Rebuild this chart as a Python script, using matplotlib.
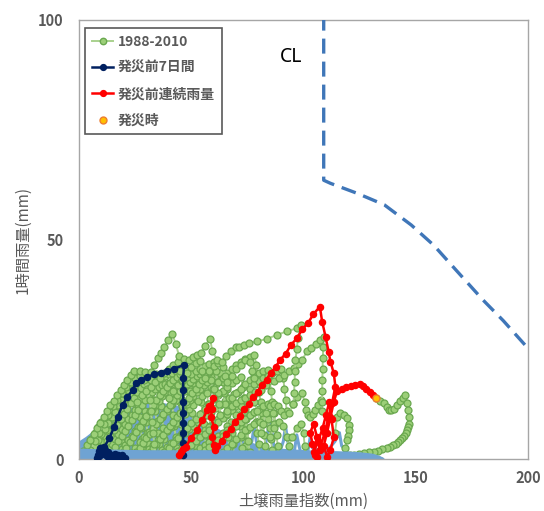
import matplotlib
matplotlib.use("Agg")
import matplotlib.pyplot as plt
from matplotlib.lines import Line2D

plt.rcParams['font.family'] = ['Noto Sans CJK JP', 'DejaVu Sans']

# ---------------- data ----------------
x_ticks = [0, 50, 100, 150, 200]
y_ticks = [0, 50, 100]
x_label = "土壌雨量指数(mm)"
y_label = "1時間雨量(mm)"
legend_labels = ["1988-2010", "発災前7日間", "発災前連続雨量", "発災時"]

# critical line (CL)
cl_x = [109, 109, 112, 124, 136, 148, 158, 168, 180, 189, 199.5]
cl_y = [101, 63.5, 62.8, 60.5, 57.9, 53.3, 48.7, 43.0, 36.2, 31.5, 25.5]

# dense low-level base (1988-2010, near zero)
base_x = [0, 0, 3, 8, 15, 25, 35, 45, 55, 65, 75, 85, 95, 105, 115, 125, 131, 135, 136, 0]
base_y = [0, 4.0, 5.0, 7.0, 9.5, 12.0, 13.0, 12.0, 9.0, 6.0, 4.0, 2.5, 2.2, 1.9, 1.7, 1.3, 1.0, 0.4, 0, 0]
band_x = [0, 0, 10, 30, 60, 90, 110, 120, 126, 131, 134, 136, 136]
band_y = [0, 2.4, 2.2, 2.0, 2.0, 1.9, 1.8, 1.7, 1.5, 1.2, 0.7, 0.2, 0]
base_line = [(75, 1), (77, 4), (78, 7.5), (79, 4), (80, 2), (83, 3), (84, 6), (85, 8.5), (86, 6), (87, 2),
             (89, 1), (91, 4), (92, 7.5), (93, 4), (94, 1.5), (96, 2), (97, 5.5), (98, 3), (99, 1),
             (102, 2), (103, 5), (104, 2.5), (110, 1.5), (114, 4), (116, 6), (117, 3), (120, 1.2)]

# 1988-2010 paths (green)
g_envelope = [(0.5, 0.5), (2, 1.8), (3.5, 3.1), (5, 4.4), (6.5, 5.7), (8, 7), (9.5, 8.3), (11, 9.6),
              (12.5, 10.9), (14, 12.2), (15.5, 13.3), (17, 14.5), (18.5, 15.7), (20, 16.8), (21.5, 18),
              (23, 19.2), (24.6, 20.1), (27, 20.0), (29.5, 19.9), (32, 19.9), (33.5, 21.5), (35, 23),
              (36.4, 24.1), (38, 25.5), (39.8, 27), (41.6, 28.5), (43, 26.3), (44.6, 23.5), (46.8, 22.8),
              (49, 22.6), (51, 23.3), (52.7, 23.8), (54.2, 24.1), (56, 25.7), (58.4, 27.4), (59.4, 24.5),
              (61.6, 22.6), (63.5, 22.2), (65.5, 23.5), (67.6, 24.5), (69.8, 25.5), (71.3, 25.4),
              (73.5, 26), (75.7, 26.4), (79.4, 26.8), (83.9, 27.4), (88.3, 28.3), (92.7, 29.1),
              (97.2, 29.8), (99, 30.5), (97.5, 27.5), (97, 25), (96.4, 22.5), (96.2, 20), (96, 17.5),
              (95.8, 15), (95.5, 12.5)]
g_second = [(66, 11), (68, 12), (70, 12.8), (72, 13.5), (74, 14), (76, 14.5), (78.5, 15.2), (80.9, 15.8),
            (83.5, 16.8), (86.8, 17.7), (89, 18.5), (91.3, 19.2), (93.5, 20), (95.7, 20.7), (97.5, 21.7),
            (99.4, 22.6), (101.6, 24.5), (103.5, 25.2), (105.5, 26.2), (107.3, 27.1), (109, 27.9),
            (108.8, 25.5), (108.6, 23), (108.5, 20.5), (108.4, 18), (108.3, 15.5), (108.3, 13),
            (108.2, 11)]
g_e1 = [(1, 0.5), (2.5, 1.8), (4, 3.2), (5.5, 4.6), (7, 6), (8.5, 7.2), (10, 8.5), (11.5, 9.6), (13, 10.6),
        (14.5, 11.3), (16, 11.8), (17, 10), (17.5, 8), (18, 6), (18.5, 4), (19, 2), (19.5, 0.5)]
g_e2 = [(4, 0.5), (5.5, 1.8), (7, 3), (8.5, 4.3), (10, 5.6), (11.5, 6.9), (13, 8.2), (14.5, 9.5), (16, 10.8),
        (17.5, 12.2), (19, 13.5), (20.5, 14.8), (22, 15.8), (23.5, 16.5), (25, 16.8), (26, 14.5),
        (26.5, 12), (27, 9.5), (27.5, 7), (28, 4.5), (28.5, 2), (29, 0.5)]
g_e3 = [(8, 0.5), (9.5, 1.5), (11, 2.7), (12.5, 4), (14, 5.2), (15.5, 6.5), (17, 7.8), (18.5, 9), (20, 10.3),
        (21.5, 11.5), (23, 12.8), (24.5, 14), (26, 15.2), (27.5, 16.2), (29, 17), (30.5, 17.6), (32, 18),
        (33, 16), (33.5, 13.5), (34, 11), (34.5, 8.5), (35, 6), (35.5, 3.5), (36, 1)]
g_e4 = [(13, 0.5), (14.5, 1.6), (16, 2.8), (17.5, 4), (19, 5.2), (20.5, 6.4), (22, 7.6), (23.5, 8.8),
        (25, 10), (26.5, 11.2), (28, 12.4), (29.5, 13.5), (31, 14.5), (32.5, 15.3), (34, 16), (35.5, 16.5),
        (37, 16.8), (38.5, 17), (40, 17.2), (41, 15), (41.5, 12.5), (42, 10), (42.5, 7.5), (43, 5),
        (43.5, 2.5), (44, 0.5)]
g_e5 = [(18, 0.5), (19.5, 1.5), (21, 2.6), (22.5, 3.8), (24, 5), (25.5, 6.2), (27, 7.4), (28.5, 8.6),
        (30, 9.8), (31.5, 11), (33, 12.2), (34.5, 13.4), (36, 14.5), (37.5, 15.5), (39, 16.4), (40.5, 17.2),
        (42, 18), (43.5, 18.7), (45, 19.3), (46.5, 19.8), (48, 20.2), (49, 18), (49.5, 15.5), (50, 13),
        (50.5, 10.5), (51, 8), (51.5, 5.5), (52, 3), (52.5, 1)]
g_e6 = [(24, 0.5), (25.5, 1.5), (27, 2.5), (28.5, 3.6), (30, 4.7), (31.5, 5.8), (33, 6.9), (34.5, 8),
        (36, 9.1), (37.5, 10.2), (39, 11.3), (40.5, 12.4), (42, 13.5), (43.5, 14.5), (45, 15.5),
        (46.5, 16.3), (48, 17), (49.5, 17.6), (51, 18.2), (52.5, 18.8), (54, 19.3), (55.5, 19.6),
        (56.5, 17.5), (57, 15), (57.5, 12.5), (58, 10), (58.5, 7.5), (59, 5), (59.5, 2.5), (60, 0.5)]
g_e7 = [(30, 0.5), (31.5, 1.5), (33, 2.5), (34.5, 3.5), (36, 4.5), (37.5, 5.5), (39, 6.5), (40.5, 7.5),
        (42, 8.5), (43.5, 9.5), (45, 10.5), (46.5, 11.5), (48, 12.5), (49.5, 13.4), (51, 14.3),
        (52.5, 15.2), (54, 16), (55.5, 16.8), (57, 17.5), (58.5, 18.2), (60, 18.8), (61.5, 19.3),
        (63, 19.7), (64, 17.5), (64.5, 15), (65, 12.5), (65.5, 10), (66, 7.5), (66.5, 5), (67, 2.5),
        (67.5, 0.5)]
g_e8 = [(36, 0.5), (38, 1.5), (40, 2.6), (42, 3.7), (44, 4.8), (46, 5.9), (48, 7), (50, 8.1), (52, 9.2),
        (54, 10.3), (56, 11.4), (58, 12.5), (60, 13.6), (62, 14.6), (64, 15.6), (66, 16.5), (68, 17.3),
        (70, 18), (72, 18.6), (73, 16.5), (73.5, 14), (74, 11.5), (74.5, 9), (75, 6.5), (75.5, 4),
        (76, 1.5)]
g_e9 = [(44, 0.5), (46, 1.3), (48, 2.2), (50, 3.1), (52, 4), (54, 4.9), (56, 5.8), (58, 6.7), (60, 7.6),
        (62, 8.5), (64, 9.4), (66, 10.3), (68, 11.2), (70, 12), (72, 12.8), (74, 13.5), (76, 14.2),
        (78, 14.8), (80, 15.3), (81, 13), (81.5, 10.5), (82, 8), (82.5, 5.5), (83, 3), (83.5, 0.8)]
g_e10 = [(52, 0.5), (54, 1.2), (56, 2), (58, 2.8), (60, 3.6), (62, 4.4), (64, 5.2), (66, 6), (68, 6.8),
         (70, 7.6), (72, 8.4), (74, 9.2), (76, 10), (78, 10.7), (80, 11.4), (82, 12), (84, 12.5),
         (86, 12.8), (87, 10.5), (87.5, 8), (88, 5.5), (88.5, 3), (89, 0.8)]
g_e11 = [(5, 2), (7, 4), (9, 6), (11, 8), (13, 10), (15, 12), (17, 13.5), (19, 15), (21, 16.5), (23, 17.5),
         (25, 18.5), (27, 19), (29, 18), (30.5, 16), (31.5, 13.5), (32, 11), (32.5, 8.5), (33, 6),
         (33.5, 3.5), (34, 1)]
g_e12 = [(2, 0.8), (3.5, 2), (5, 3), (6.5, 3.8), (8, 4.5), (9.5, 5), (11, 5.5), (12, 4), (12.5, 2.5),
         (13, 1)]
g_e13 = [(46, 18), (48, 19.5), (50, 21), (52, 21.8), (54, 22.3), (55, 20), (56, 18.5), (58, 20), (60, 21.2),
         (62, 21.8), (64, 21), (65, 19), (66, 17.5), (68, 19), (70, 20.5), (72, 21.5), (74, 22.5),
         (76, 22), (77, 20), (78, 18.5)]
g_e14 = [(26, 13), (28, 14.5), (30, 15.5), (32, 16.5), (34, 17.5), (36, 18.5), (38, 19.5), (40, 20.5),
         (42, 21.3), (44, 22), (45, 20), (46, 18)]
g_e15 = [(62, 0.5), (64, 1.5), (66, 2.5), (68, 3.5), (70, 4.5), (72, 5.5), (74, 6.5), (76, 7.3), (78, 8),
         (80, 8.6), (82, 9), (84, 9.2), (85, 7), (85.5, 4.5), (86, 2)]
g_e16 = [(46, 12), (47.5, 13), (49, 14), (50.5, 15), (52, 16), (53.5, 17), (55, 18), (56.5, 19), (58, 19.8),
         (59, 18), (59.5, 16), (60, 14)]
g_e17 = [(60, 16), (62, 17.5), (64, 18.5), (66, 19.5), (68, 20.5), (70, 21.3), (72, 22), (74, 22.8),
         (76, 23.3), (78, 23.8), (79, 21.5), (79.5, 19), (80, 17)]
g_fa = [(2, 0.3), (3.5, 1.4), (5, 2.6), (6.5, 3.8), (8, 5), (9.5, 6.2), (11, 7.4), (12.5, 8.6), (14, 9.8),
        (15.5, 11), (17, 12.2), (18.5, 13.4), (20, 14.5), (21.5, 15.6), (23, 16.6), (24.5, 17.4),
        (26, 18), (27.5, 18.3), (28.5, 16), (29, 13.5), (29.5, 11), (30, 8.5), (30.5, 6), (31, 3.5),
        (31.5, 1)]
g_fb = [(6, 0.4), (7.5, 1.5), (9, 2.7), (10.5, 3.9), (12, 5.1), (13.5, 6.3), (15, 7.5), (16.5, 8.7),
        (18, 9.9), (19.5, 11.1), (21, 12.3), (22.5, 13.5), (24, 14.6), (25.5, 15.7), (27, 16.7),
        (28.5, 17.5), (30, 18.2), (31.5, 18.8), (33, 19.2), (34.5, 19.4), (35.5, 17), (36, 14.5),
        (36.5, 12), (37, 9.5), (37.5, 7), (38, 4.5), (38.5, 2)]
g_fc = [(10, 0.3), (11.5, 1.3), (13, 2.4), (14.5, 3.5), (16, 4.6), (17.5, 5.7), (19, 6.8), (20.5, 7.9),
        (22, 9), (23.5, 10.1), (25, 11.2), (26.5, 12.3), (28, 13.4), (29.5, 14.5), (31, 15.5),
        (32.5, 16.4), (34, 17.2), (35.5, 17.9), (37, 18.5), (38.5, 19), (40, 19.4), (41.5, 19.7),
        (43, 20), (44, 18), (44.5, 15.5), (45, 13), (45.2, 10.5), (45.4, 8), (45.6, 5.5), (45.8, 3)]
g_fd = [(16, 0.4), (17.5, 1.3), (19, 2.3), (20.5, 3.3), (22, 4.3), (23.5, 5.3), (25, 6.3), (26.5, 7.3),
        (28, 8.3), (29.5, 9.3), (31, 10.3), (32.5, 11.3), (34, 12.3), (35.5, 13.3), (37, 14.3),
        (38.5, 15.3), (40, 16.2), (41.5, 17), (43, 17.6), (44.5, 18.1), (45.5, 16), (46, 13.5)]
g_fe = [(21, 0.3), (23, 1.4), (25, 2.6), (27, 3.8), (29, 5), (31, 6.2), (33, 7.4), (35, 8.6), (37, 9.8),
        (39, 11), (41, 12.2), (43, 13.4), (45, 14.5), (47, 15.5), (49, 16.4), (51, 17.2), (53, 17.8),
        (54, 15.5), (54.5, 13), (55, 10.5), (55.5, 8), (56, 5.5), (56.5, 3), (57, 0.8)]
g_ff = [(27, 0.3), (29, 1.3), (31, 2.3), (33, 3.3), (35, 4.3), (37, 5.3), (39, 6.3), (41, 7.3), (43, 8.3),
        (45, 9.3), (47, 10.3), (49, 11.3), (51, 12.3), (53, 13.3), (55, 14.3), (57, 15.3), (59, 16.3),
        (61, 17.1), (63, 17.7), (65, 18.2), (66, 16), (66.5, 13.5), (67, 11), (67.5, 8.5), (68, 6),
        (68.5, 3.5), (69, 1)]
g_fg = [(33, 0.3), (35, 1.2), (37, 2), (39, 2.8), (41, 3.6), (43, 4.4), (45, 5.2), (47, 6), (49, 6.8),
        (51, 7.6), (53, 8.4), (55, 9.2), (57, 10), (59, 10.8), (61, 11.6), (63, 12.4), (65, 13.2),
        (67, 14), (69, 14.7), (71, 15.3), (72, 13), (72.5, 10.5), (73, 8), (73.5, 5.5), (74, 3),
        (74.5, 0.8)]
g_fh = [(40, 0.3), (42, 1), (44, 1.8), (46, 2.6), (48, 3.4), (50, 4.2), (52, 5), (54, 5.8), (56, 6.6),
        (58, 7.4), (60, 8.2), (62, 9), (64, 9.8), (66, 10.6), (68, 11.4), (70, 12.2), (71, 10),
        (71.5, 7.5), (72, 5), (72.5, 2.5)]
g_fi = [(48, 0.3), (50, 1), (52, 1.7), (54, 2.4), (56, 3.1), (58, 3.8), (60, 4.5), (62, 5.2), (64, 5.9),
        (66, 6.6), (68, 7.3), (70, 8), (72, 8.7), (74, 9.4), (76, 10.1), (78, 10.8), (79, 8.5),
        (79.5, 6), (80, 3.5), (80.5, 1)]
g_fk = [(40, 14), (42, 15.5), (44, 16.8), (46, 17.8), (48, 18.6), (50, 19.4), (52, 20), (54, 20.6),
        (56, 21.2), (58, 21.6), (60, 22), (61, 20), (61.5, 17.5), (62, 15), (62.5, 12.5), (63, 10)]
g_fl = [(68, 14), (70, 15), (72, 16), (74, 17), (76, 18), (78, 18.8), (80, 19.5), (82, 20), (84, 20.3),
        (85, 18), (85.5, 15.5), (86, 13), (86.5, 10.5), (87, 8)]
g_fm = [(76, 16), (78, 17), (80, 17.8), (82, 18.5), (84, 19), (86, 19.5), (88, 20), (90, 20.5),
        (91, 18.5), (91.5, 16), (92, 13.5), (92.5, 11)]
g_arcs = [(70, 10), (72, 12), (74, 13.5), (76, 14), (78, 13), (79.5, 11), (80.5, 8.5), (81, 6), (82, 8),
          (83.5, 10.5), (85, 12), (86.8, 12.5), (88.5, 12), (90, 11), (91.5, 10), (93.5, 10.4),
          (95.5, 12.5), (97.2, 14.2), (99.4, 15), (100.5, 13), (100.9, 11.2), (102, 10), (103.1, 9.6),
          (104.2, 10.3), (105.3, 11.2), (106.5, 12.3), (107.6, 13.4)]
g_arcs2 = [(85, 5), (87, 7), (89, 8.5), (91, 7.5), (92.5, 5), (93.5, 3), (95, 5), (97, 7), (99, 8),
           (100, 6), (100.5, 3), (101, 1)]
g_small = [(114, 6), (115, 9.6), (116.4, 10.4), (118, 10), (119.4, 9.3), (120.1, 7.8), (120.1, 6.6),
           (119.8, 5.3), (119.4, 4.3), (118.7, 2.5), (118, 1)]
g_after = [(132.4, 13.8), (134, 13.2), (135.7, 12.7), (137, 11.8), (137.9, 11.2), (139, 11.2),
           (140.1, 11.5), (141.6, 12.3), (143.1, 13.1), (144.3, 13.9), (145.3, 14.6), (146, 12.7),
           (146.5, 11.2), (146.8, 9.6), (146.8, 8), (146.5, 7.3), (146, 6.6), (145.5, 5.9), (144.8, 5.3),
           (144, 4.8), (143.1, 4.3), (142, 3.9), (141, 3.5), (139.8, 3.1), (138.7, 2.8), (137, 2.5),
           (135, 2.2), (133, 1.9), (131.2, 1.7), (129, 1.5), (127, 1.3), (124.5, 1.1), (122.3, 0.9),
           (120.5, 0.85), (118.5, 0.8), (116.5, 0.75), (115, 0.7)]
green_paths = [g_e12, g_fa, g_e1, g_fb, g_e2, g_fc, g_e3, g_fd, g_e4, g_fe, g_e5, g_ff, g_e6, g_fg, g_e7,
               g_fh, g_e8, g_fi, g_e9, g_e10, g_e15, g_e11, g_e14, g_fk, g_e16, g_e17, g_fl, g_fm, g_e13,
               g_arcs2, g_arcs, g_small, g_second, g_envelope, g_after]

# 7 days before disaster (navy)
navy_x = [8, 8.5, 9, 9.5, 10, 10.5, 11, 11.5, 12, 13, 14, 15, 16, 17, 18, 19, 20.5, 19, 17.5, 16, 14.5,
          13, 11.5, 10, 9, 10.2, 11.3, 13.5, 15.7, 17.2, 19.4, 21.6, 23.9, 25.3, 27.6, 30.5, 33.5, 36.4,
          39.4, 42.4, 46.8, 46.4, 46.4, 46.4, 46.4, 46.4, 46.4, 46.4, 46.2]
navy_y = [0.3, 1.0, 1.8, 2.4, 2.6, 2.2, 1.6, 1.2, 0.9, 0.5, 0.3, 0.7, 0.3, 0.6, 0.3, 0.5, 0.3, 1.0, 0.8,
          1.2, 0.9, 1.5, 2.0, 1.2, 0.6, 1.8, 2.8, 4.7, 7.4, 9.6, 12.3, 14.2, 15.7, 17.2, 18.0, 18.7,
          19.3, 19.7, 20.1, 20.6, 21.4, 18.5, 15.7, 13.0, 10.5, 8.2, 5.9, 3.6, 1.0]

# continuous rainfall before disaster (red)
red_x = [44.6, 45.5, 46.5, 47.6, 49.8, 52.7, 55.0, 57.2, 57.9, 59.9, 59.4, 58.7, 60.1, 59.4, 60.1, 60.4,
         61.5, 63.6, 65.4, 67.6, 69.4, 71.6, 73.4, 75.6, 77.4, 79.6, 81.4, 83.6, 85.4, 87.6, 89.4, 92.1,
         94.4, 97.1, 99.4, 102.1, 104.4, 107.3, 108.3, 109.8, 111.2, 112.0, 113.5, 114.2, 112.7, 111.0,
         109.5, 107.6, 105.3, 104.0, 103.0, 104.5, 106.0, 107.5, 106.0, 104.5, 106.5, 108.5, 110.0,
         111.5, 112.5, 113.5, 112.0, 110.5, 109.0, 110.5, 112.0, 113.5, 115.0, 117.0, 119.0, 121.0,
         123.0, 125.0, 126.5, 128.0, 129.5, 131.0]
red_y = [0.9, 1.5, 2.2, 2.8, 4.7, 6.6, 8.9, 11.2, 12.0, 13.8, 11.5, 9.6, 7.4, 5.1, 3.2, 2.0, 2.9, 4.1,
         5.7, 6.9, 8.5, 9.7, 11.3, 12.5, 14.1, 15.3, 16.9, 18.1, 19.7, 20.9, 22.5, 24.0, 26.0, 27.5, 29.5,
         31.0, 33.0, 34.7, 31.3, 27.9, 24.4, 22.2, 19.5, 16.5, 12.7, 9.3, 6.0, 3.0, 1.0, 3.5, 6.0, 8.0,
         5.0, 2.0, 0.5, 1.5, 4.0, 7.0, 10.0, 13.0, 9.0, 5.0, 2.0, 0.5, 3.0, 6.0, 9.5, 13.0, 15.6, 16.0,
         16.3, 16.6, 16.9, 17.0, 16.6, 15.9, 15.2, 14.5]

# time of disaster (orange)
hit_x = [132.4]
hit_y = [13.8]

# ---------------- figure ----------------
fig = plt.figure(figsize=(5.44, 5.11), dpi=100)
ax = fig.add_axes([79 / 544, 1 - 459 / 511, 449 / 544, 439 / 511])

GREEN_LINE = '#a9d18e'
GREEN_FACE = '#9ccf78'
GREEN_EDGE = '#6aa84f'
BLUE = '#6fa3d3'

ax.fill(base_x, base_y, color=BLUE, lw=0, zorder=1)
bx, by = zip(*base_line)
ax.plot(bx, by, color=BLUE, lw=2.2, zorder=1.5)

for path in green_paths:
    px, py = zip(*path)
    ax.plot(px, py, color=GREEN_LINE, lw=1.4, marker='o', ms=5.0, mfc=GREEN_FACE,
            mec=GREEN_EDGE, mew=0.9, zorder=2)

ax.fill(band_x, band_y, color=BLUE, lw=0, zorder=2.5)

ax.plot(cl_x, cl_y, color='#3f76b8', lw=2.4, dashes=(4.5, 2.4), zorder=3)

ax.plot(navy_x, navy_y, color='#002060', lw=1.8, marker='o', ms=4.4, mfc='#002060',
        mec='#002060', zorder=4)
ax.plot(red_x, red_y, color='#ff0000', lw=1.8, marker='o', ms=4.4, mfc='#ff0000',
        mec='#ff0000', zorder=5)
ax.plot(hit_x, hit_y, ls='none', marker='o', ms=5, mfc='#ffc000', mec='#ed7d31', mew=1,
        zorder=6)

ax.text(94.5, 91.5, "CL", fontsize=14, family=['Noto Sans', 'DejaVu Sans'], color='black',
        ha='center', va='center')

ax.set_xlim(0, 200)
ax.set_ylim(0, 100)
ax.set_xticks(x_ticks)
ax.set_yticks(y_ticks)
ax.set_xticklabels([str(v) for v in x_ticks], fontweight='bold', fontsize=10.5, color='#595959')
ax.set_yticklabels([str(v) for v in y_ticks], fontweight='bold', fontsize=10.5, color='#595959')
ax.tick_params(axis='both', length=0)
ax.tick_params(axis='x', pad=8)
ax.tick_params(axis='y', pad=11)
for s in ax.spines.values():
    s.set_color('#a6a6a6')
    s.set_linewidth(1.0)

ax.set_xlabel(x_label, fontsize=11, color='#595959', labelpad=5)
ax.set_ylabel(y_label, fontsize=11, color='#595959', labelpad=5)

handles = [
    Line2D([], [], color=GREEN_LINE, lw=1.4, marker='o', ms=4.6, mfc=GREEN_FACE, mec=GREEN_EDGE),
    Line2D([], [], color='#002060', lw=1.8, marker='o', ms=4.2, mfc='#002060', mec='#002060'),
    Line2D([], [], color='#ff0000', lw=1.8, marker='o', ms=4.2, mfc='#ff0000', mec='#ff0000'),
    Line2D([], [], ls='none', marker='o', ms=5, mfc='#ffc000', mec='#ed7d31'),
]
leg = ax.legend(handles, legend_labels, loc='upper left', bbox_to_anchor=(0.013, 0.982),
                borderaxespad=0, fancybox=False, framealpha=1, edgecolor='#595959',
                prop={'weight': 'bold', 'size': 10}, labelspacing=0.88, handlelength=1.55,
                handletextpad=0.3, borderpad=0.5, numpoints=1)
leg.get_frame().set_linewidth(1.2)
for t in leg.get_texts():
    t.set_color('#595959')
leg.set_zorder(10)

fig.savefig("out.png", dpi=100)
